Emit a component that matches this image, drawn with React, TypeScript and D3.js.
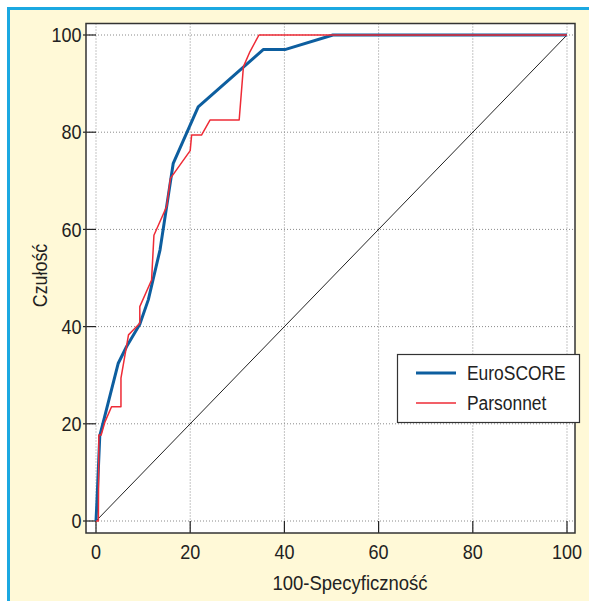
import React from "react";
import * as d3 from "d3";

const euroX = [0, 0.2, 0.8, 4.7, 6.5, 9.3, 11.1, 13.6, 16.4, 21.7, 35.5, 40.1, 50.3, 100];
const euroY = [0, 4, 17.5, 32.4, 35.9, 40.5, 45.5, 55.8, 73.6, 85.2, 97, 97, 100, 100];

const parsX = [0, 0.5, 0.6, 1.1, 1.9, 3.3, 5.3, 5.3, 6.9, 7.6, 9.3, 9.3, 11.8, 12.3, 15.0, 15.8, 20.0, 20.3, 22.4, 24.2, 30.4, 31.3, 32.7, 34.6, 100];
const parsY = [0, 0, 17.7, 17.7, 20.4, 23.5, 23.5, 29.4, 38.3, 39.0, 40.7, 44.1, 49.6, 58.8, 64.7, 70.5, 76.2, 79.4, 79.4, 82.5, 82.5, 93.5, 96.6, 100, 100];

const refX = [0, 100];
const refY = [0, 100];

const xTicks = [0, 20, 40, 60, 80, 100];
const yTicks = [0, 20, 40, 60, 80, 100];

const seriesNames = ["EuroSCORE", "Parsonnet"];

const FONT = "'Liberation Sans', Arial, sans-serif";

function T(props: { x: number; y: number; sx: number; size: number; anchor?: string; rotate?: number; children: React.ReactNode; dy?: string }) {
  const { x, y, sx, size, anchor, rotate, children, dy } = props;
  return (
    <g transform={`translate(${x},${y})${rotate ? ` rotate(${rotate})` : ""} scale(${sx},1)`}>
      <text x={0} y={0} dy={dy} textAnchor={anchor || "start"} fontSize={size} fill="#222">{children}</text>
    </g>
  );
}

export default function App() {
  const W = 589, H = 601;
  const box = { l: 86, r: 575, t: 23.5, b: 533 };
  const x = d3.scaleLinear().domain([0, 100]).range([96, 567]);
  const y = d3.scaleLinear().domain([0, 100]).range([521, 35]);

  const toPts = (xs: number[], ys: number[]) => xs.map((v, i) => [v, ys[i]] as [number, number]);
  const line = d3.line<[number, number]>().x(d => x(d[0])).y(d => y(d[1]));

  const blue = "#0D5E9F";
  const red = "#EE2B36";

  return (
    <svg width={W} height={H} style={{ position: "absolute", left: 0, top: 0, overflow: "hidden" }} fontFamily={FONT}>
      <rect x={0} y={0} width={W} height={H} fill="#fff" />
      <rect x={8.5} y={8.5} width={2000} height={2000} fill="#FFF9D7" stroke="#1BA8E1" strokeWidth={3} />
      <rect x={box.l} y={box.t} width={box.r - box.l} height={box.b - box.t} fill="#fff" />
      {/* grid */}
      {xTicks.map(t => (
        <line key={"gx" + t} x1={x(t)} x2={x(t)} y1={box.t} y2={box.b} stroke="#8a8a8a" strokeWidth={1} strokeDasharray="1,2" />
      ))}
      {yTicks.map(t => (
        <line key={"gy" + t} x1={box.l} x2={box.r} y1={y(t)} y2={y(t)} stroke="#8a8a8a" strokeWidth={1} strokeDasharray="1,2" />
      ))}
      {/* ticks */}
      {yTicks.map(t => (
        <g key={"ty" + t}>
          <line x1={83} x2={x(0)} y1={y(t)} y2={y(t)} stroke="#222" strokeWidth={1.2} />
          <T x={81.5} y={y(t)} dy="0.36em" sx={0.9} size={20} anchor="end">{t}</T>
        </g>
      ))}
      {xTicks.map(t => (
        <g key={"tx" + t}>
          <line x1={x(t)} x2={x(t)} y1={box.b} y2={y(0)} stroke="#222" strokeWidth={1.2} />
          <T x={x(t)} y={559} sx={0.9} size={20} anchor="middle">{t}</T>
        </g>
      ))}
      {/* reference diagonal */}
      <path d={line(toPts(refX, refY)) || ""} fill="none" stroke="#222" strokeWidth={1} />
      {/* curves */}
      <path d={line(toPts(euroX, euroY)) || ""} fill="none" stroke={blue} strokeWidth={3} strokeLinejoin="round" />
      <path d={line(toPts(parsX, parsY)) || ""} fill="none" stroke={red} strokeWidth={1.5} strokeLinejoin="round" />
      {/* box */}
      <rect x={box.l} y={box.t} width={box.r - box.l} height={box.b - box.t} fill="none" stroke="#333" strokeWidth={1.5} />
      {/* legend */}
      <rect x={397.5} y={354.5} width={182} height={68} fill="#fff" stroke="#333" strokeWidth={1.2} />
      <line x1={416} x2={456} y1={373} y2={373} stroke={blue} strokeWidth={3} />
      <line x1={416} x2={456} y1={403} y2={403} stroke={red} strokeWidth={1.5} />
      <T x={467} y={380} sx={0.83} size={21}>{seriesNames[0]}</T>
      <T x={467} y={410} sx={0.83} size={21}>{seriesNames[1]}</T>
      {/* axis titles */}
      <T x={350} y={590} sx={0.88} size={21} anchor="middle">100-Specyficzność</T>
      <T x={46.5} y={275.5} sx={0.85} size={21} anchor="middle" rotate={-90}>Czułość</T>
    </svg>
  );
}
